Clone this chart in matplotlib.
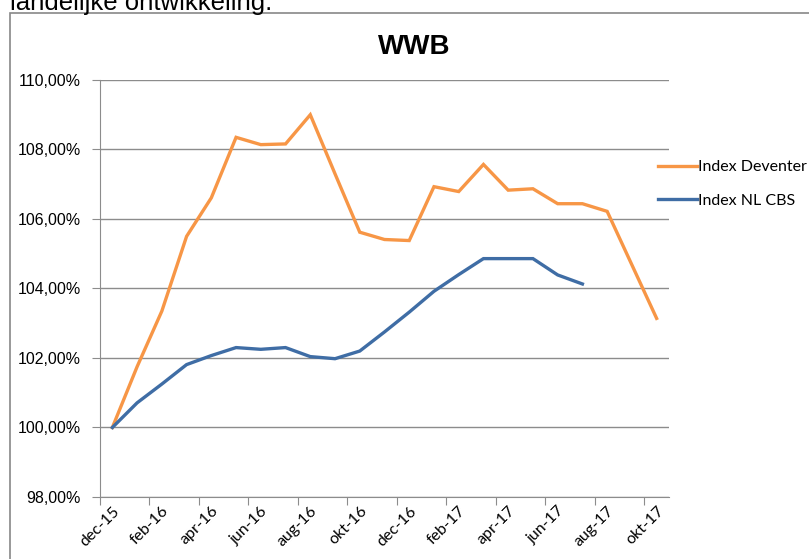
import matplotlib
matplotlib.use("Agg")
import matplotlib.pyplot as plt
from matplotlib.patches import Rectangle
from matplotlib.ticker import FuncFormatter, FixedLocator

# maanden dec-15 .. okt-17
months = ["dec-15", "jan-16", "feb-16", "mrt-16", "apr-16", "mei-16", "jun-16",
          "jul-16", "aug-16", "sep-16", "okt-16", "nov-16", "dec-16", "jan-17",
          "feb-17", "mrt-17", "apr-17", "mei-17", "jun-17", "jul-17", "aug-17",
          "sep-17", "okt-17"]

index_deventer = [100.0, 101.75, 103.35, 105.5, 106.61, 108.35, 108.14, 108.16,
                  109.0, 107.3, 105.62, 105.41, 105.38, 106.93, 106.79, 107.57,
                  106.83, 106.87, 106.44, 106.44, 106.22, 104.68, 103.14]

index_nl_cbs = [100.0, 100.71, 101.25, 101.81, 102.07, 102.3, 102.25, 102.3,
                102.04, 101.98, 102.2, 102.75, 103.32, 103.92, 104.4, 104.86,
                104.86, 104.86, 104.39, 104.13]

orange = "#F79646"
blue = "#3F6DA5"
grey = "#8C8C8C"

fig = plt.figure(figsize=(8.09, 5.59), dpi=100)

# rand van de grafiek (loopt door buiten beeld)
fig.patches.append(Rectangle((10 / 809, -0.2), 1.0, 1.2 - 13 / 559,
                             transform=fig.transFigure, fill=False,
                             edgecolor="#888888", linewidth=1.2))
fig.text(10 / 809, 1 - 3 / 559, "landelijke ontwikkeling.", fontsize=18.5,
         family="Liberation Sans", va="center", ha="left")

ax = fig.add_axes([100 / 809, 1 - 497 / 559, 569 / 809, 417 / 559])

x = list(range(len(months)))
ax.plot(x, index_deventer, color=orange, linewidth=2.4, label="Index Deventer",
        solid_joinstyle="miter")
ax.plot(x[:len(index_nl_cbs)], index_nl_cbs, color=blue, linewidth=2.4,
        label="Index NL CBS", solid_joinstyle="miter")

ax.set_xlim(-0.5, len(months) - 0.5)
ax.set_ylim(98, 110)
ax.set_yticks([98, 100, 102, 104, 106, 108, 110])
ax.yaxis.set_major_formatter(FuncFormatter(lambda v, p: f"{v:.2f}%".replace(".", ",")))
ax.grid(axis="y", color=grey, linewidth=1)
ax.set_axisbelow(True)

ax.xaxis.set_major_locator(FixedLocator([i - 0.5 for i in range(0, len(months), 2)]))
ax.xaxis.set_minor_locator(FixedLocator(list(range(0, len(months), 2))))
ax.xaxis.set_major_formatter(FuncFormatter(lambda v, p: ""))
ax.xaxis.set_minor_formatter(FuncFormatter(lambda v, p: months[int(round(v))]))
ax.tick_params(axis="x", which="major", length=6, color=grey, direction="out")
ax.tick_params(axis="x", which="minor", length=0, pad=5)
for lab in ax.xaxis.get_minorticklabels():
    lab.set_rotation(45)
    lab.set_ha("right")
    lab.set_rotation_mode("anchor")
    lab.set_family("Lato")
    lab.set_fontsize(11.5)
ax.tick_params(axis="y", length=6, color=grey, labelsize=11.5, pad=8)
for lab in ax.get_yticklabels():
    lab.set_family("Liberation Sans")

for s in ["top", "right"]:
    ax.spines[s].set_visible(False)
ax.spines["left"].set_color(grey)
ax.spines["bottom"].set_color(grey)

fig.text(414 / 809, 1 - 47 / 559, "WWB", fontsize=20, fontweight="bold",
         family="Liberation Sans", ha="center", va="center")

leg = ax.legend(loc="center left", bbox_to_anchor=(652 / 809, 1 - 184 / 559),
                bbox_transform=fig.transFigure, frameon=False, handlelength=2.4,
                handletextpad=0.1, labelspacing=1.2, borderaxespad=0,
                prop={"family": "Lato", "size": 11.5})

fig.savefig("out.png", dpi=100)
